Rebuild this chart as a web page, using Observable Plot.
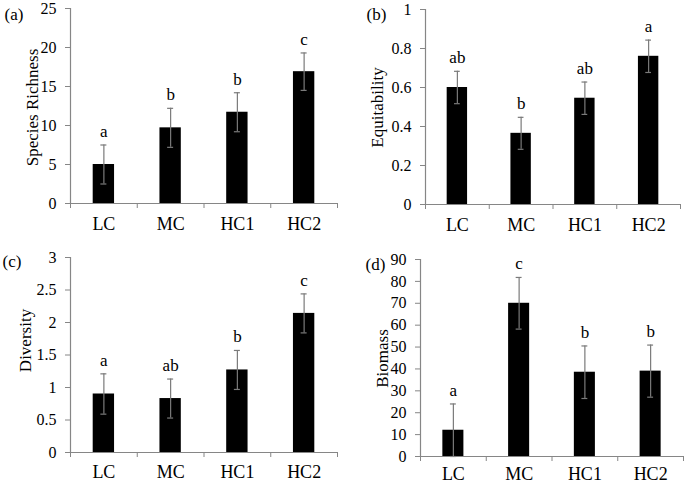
<!DOCTYPE html>
<html>
<head>
<meta charset="utf-8">
<script src="https://cdn.jsdelivr.net/npm/d3@7"></script>
<script src="https://cdn.jsdelivr.net/npm/@observablehq/plot@0.6"></script>
<style>
  html, body { margin: 0; padding: 0; background: #fff; }
  #wrap { position: relative; width: 685px; height: 483px; overflow: hidden; }
  #wrap > div { position: absolute; }
</style>
</head>
<body>
<div id="wrap">
  <div id="pa" style="left:0;top:0"></div>
  <div id="pb" style="left:342px;top:0"></div>
  <div id="pc" style="left:0;top:241px"></div>
  <div id="pd" style="left:342px;top:241px"></div>
</div>
<script>
// ---- data ----
const categories = ["LC", "MC", "HC1", "HC2"];

const richness = [5.0, 9.7, 11.7, 16.9];
const richnessErr = [2.5, 2.5, 2.5, 2.4];
const richnessLetters = ["a", "b", "b", "c"];
const richnessTicks = [0, 5, 10, 15, 20, 25];

const equitability = [0.60, 0.365, 0.545, 0.76];
const equitabilityErr = [0.083, 0.082, 0.083, 0.083];
const equitabilityLetters = ["ab", "b", "ab", "a"];
const equitabilityTicks = [0, 0.2, 0.4, 0.6, 0.8, 1];

const diversity = [0.90, 0.83, 1.27, 2.14];
const diversityErr = [0.31, 0.30, 0.30, 0.30];
const diversityLetters = ["a", "ab", "b", "c"];
const diversityTicks = [0, 0.5, 1, 1.5, 2, 2.5, 3];

const biomass = [12.0, 70.0, 38.5, 39.0];
const biomassErr = [12.0, 11.8, 12.0, 11.9];
const biomassLetters = ["a", "c", "b", "b"];
const biomassTicks = [0, 10, 20, 30, 40, 50, 60, 70, 80, 90];

// ---- drawing ----
const FONT = "'Liberation Serif', 'Times New Roman', serif";
const AXIS_GREY = "#868686";
const ERR_GREY = "#7a7a7a";
const HALF_BAR = 0.16;
const HALF_CAP = 0.045;

function panel(el, o) {
  const rows = categories.map((c, i) => ({
    cat: c, i, v: o.values[i], e: o.errors[i], letter: o.letters[i]
  }));
  const W = o.width, H = o.height, m = o.margin;
  const chart = Plot.plot({
    width: W, height: H,
    marginLeft: m[3], marginTop: m[0], marginRight: m[1], marginBottom: m[2],
    style: { fontFamily: FONT, fontSize: "16px", background: "transparent", color: "black" },
    x: { type: "linear", domain: [0, categories.length] },
    y: { domain: [o.ticks[0], o.ticks[o.ticks.length - 1]] },
    marks: [
      Plot.rectY(rows, { x1: d => d.i + 0.5 - HALF_BAR, x2: d => d.i + 0.5 + HALF_BAR, y1: 0, y2: "v", fill: "black" }),
      Plot.ruleX(rows, { x: d => d.i + 0.5, y1: d => d.v - d.e, y2: d => d.v + d.e, stroke: ERR_GREY, strokeWidth: 1.2 }),
      Plot.ruleY(rows, { y: d => d.v + d.e, x1: d => d.i + 0.5 - HALF_CAP, x2: d => d.i + 0.5 + HALF_CAP, stroke: ERR_GREY, strokeWidth: 1.2 }),
      Plot.ruleY(rows, { y: d => d.v - d.e, x1: d => d.i + 0.5 - HALF_CAP, x2: d => d.i + 0.5 + HALF_CAP, stroke: ERR_GREY, strokeWidth: 1.2 }),
      Plot.text(rows, { x: d => d.i + 0.5, y: d => d.v + d.e, text: "letter", dy: -8, lineAnchor: "bottom", fontSize: 17, fontFamily: FONT, fill: "black" }),
      Plot.ruleX([0], { stroke: AXIS_GREY, strokeWidth: 1.2 }),
      Plot.ruleY([0], { stroke: AXIS_GREY, strokeWidth: 1.2 }),
      Plot.axisY({ ticks: o.ticks, tickSize: 5, tickPadding: 9, tickFormat: d => String(d), label: null, stroke: AXIS_GREY, fill: "black", fontSize: 16, fontFamily: FONT }),
      Plot.axisX({ ticks: d3.range(categories.length + 1), tickSize: 5, tickFormat: () => "", label: null, stroke: AXIS_GREY }),
      Plot.axisX({ ticks: categories.map((c, i) => i + 0.5), tickSize: 0, tickPadding: o.catPad, tickFormat: t => categories[Math.floor(t)], label: null, fill: "black", fontSize: 18, fontFamily: FONT }),
      Plot.text([o.title], { frameAnchor: "top-left", dx: o.titlePos[0] - m[3], dy: o.titlePos[1] - m[0], rotate: -90, textAnchor: "middle", lineAnchor: "middle", fontSize: 17, fontFamily: FONT, fill: "black" }),
      Plot.text([o.tag], { frameAnchor: "top-left", dx: o.tagPos[0] - m[3], dy: o.tagPos[1] - m[0], textAnchor: "start", lineAnchor: "bottom", fontSize: 17, fontFamily: FONT, fill: "black" })
    ]
  });
  el.appendChild(chart);
}

panel(document.getElementById("pa"), {
  values: richness, errors: richnessErr, letters: richnessLetters, ticks: richnessTicks,
  title: "Species Richness", tag: "(a)",
  width: 342, height: 241, margin: [8, 5, 38, 70], catPad: 14,
  titlePos: [32, 107], tagPos: [4, 19]
});
panel(document.getElementById("pb"), {
  values: equitability, errors: equitabilityErr, letters: equitabilityLetters, ticks: equitabilityTicks,
  title: "Equitability", tag: "(b)",
  width: 343, height: 241, margin: [9, 5, 37, 83], catPad: 14,
  titlePos: [35, 107], tagPos: [24, 19]
});
panel(document.getElementById("pc"), {
  values: diversity, errors: diversityErr, letters: diversityLetters, ticks: diversityTicks,
  title: "Diversity", tag: "(c)",
  width: 342, height: 242, margin: [16, 5, 31, 70], catPad: 13,
  titlePos: [25, 99], tagPos: [2, 25]
});
panel(document.getElementById("pd"), {
  values: biomass, errors: biomassErr, letters: biomassLetters, ticks: biomassTicks,
  title: "Biomass", tag: "(d)",
  width: 343, height: 242, margin: [18, 2, 27, 78], catPad: 11,
  titlePos: [40, 117], tagPos: [23, 28]
});
</script>
</body>
</html>
